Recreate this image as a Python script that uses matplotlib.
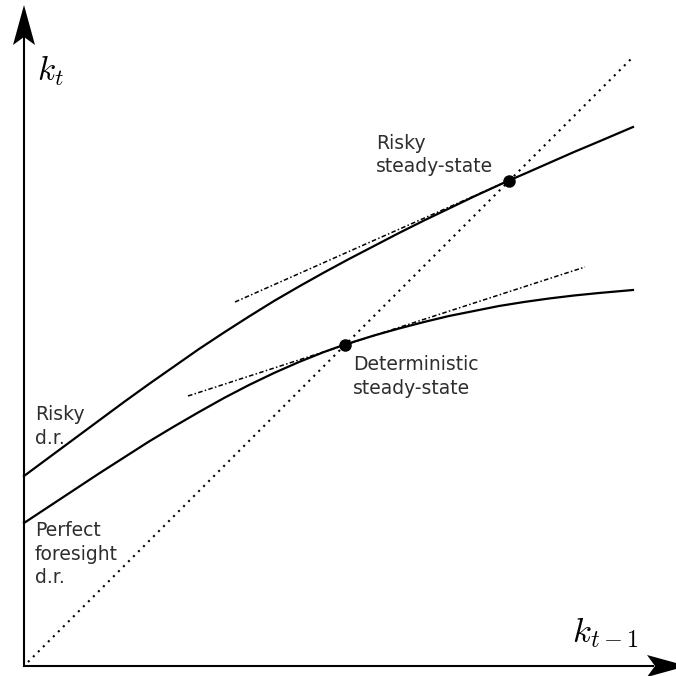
import matplotlib
matplotlib.use("Agg")
import matplotlib.pyplot as plt

plt.rcParams['mathtext.fontset'] = 'cm'
plt.rcParams['font.family'] = ['DejaVu Sans']

# Risky decision rule (k_{t-1}, k_t)
risky_x = [0, 25, 50, 75, 100, 125, 150, 175, 200, 225, 250, 275, 300, 325,
           350, 375, 400, 425, 450, 475, 485, 500, 525, 550, 575, 609]
risky_y = [190, 208.5, 227, 245.5, 264, 282, 299.5, 317, 333.5, 349.5, 365,
           379.5, 393.5, 407, 420, 433, 445.5, 457.5, 469.5, 481, 485.5, 492,
           503, 514, 524.5, 539]

# Perfect foresight decision rule
pf_x = [0, 25, 50, 75, 100, 125, 150, 175, 200, 225, 250, 275, 300, 321,
        350, 375, 400, 425, 450, 475, 500, 525, 550, 575, 609]
pf_y = [143, 159.5, 176, 192.5, 208.5, 224.5, 239.5, 254, 268, 281, 293,
        304, 314, 321.5, 330.5, 337.5, 344, 350, 355, 360, 364, 367.5,
        370.5, 373, 376]

# 45-degree line
diag_x = [4, 609]
diag_y = [4, 609]

# steady states
risky_ss = (485, 485.5)
det_ss = (321, 321.5)

# tangents (dash-dot) at the steady states
risky_tan_x = [211, 485]
risky_tan_y = [364, 485.5]
det_tan_x = [164, 561]
det_tan_y = [270, 399]

fig = plt.figure(figsize=(6.76, 6.76), dpi=100)
ax = fig.add_axes([0, 0, 1, 1])
ax.set_xlim(-24, 652)
ax.set_ylim(-10, 666)
ax.axis('off')

# axes with arrow heads
ax.plot([0, 0], [-1, 630], color='black', lw=1.5, solid_capstyle='butt')
ax.plot([-1, 630], [0, 0], color='black', lw=1.5, solid_capstyle='butt')
ax.fill([0, -11, 0, 11], [661, 621, 629, 621], color='black', lw=0)
ax.fill([663, 623, 631, 623], [0, 11, 0, -11], color='black', lw=0)

ax.plot(diag_x, diag_y, color='black', lw=1.5, linestyle=(0, (1, 2.4)))
ax.plot(risky_x, risky_y, color='black', lw=1.6)
ax.plot(pf_x, pf_y, color='black', lw=1.6)
ax.plot(risky_tan_x, risky_tan_y, color='black', lw=1.1, linestyle=(0, (3, 1.5, 1, 1.5)))
ax.plot(det_tan_x, det_tan_y, color='black', lw=1.1, linestyle=(0, (3, 1.5, 1, 1.5)))
ax.plot(*risky_ss, marker='o', color='black', markersize=8)
ax.plot(*det_ss, marker='o', color='black', markersize=8)

ax.text(13, 586, r'$k_t$', fontsize=24, va='baseline', ha='left')
ax.text(548, 24, r'$k_{t-1}$', fontsize=25, va='baseline', ha='left')

tc = '#2e2e2e'
fs = 13.5
ls = 1.3
ax.text(352, 532, 'Risky\nsteady-state', fontsize=fs, color=tc, va='top', ha='left', linespacing=ls)
ax.text(329, 311, 'Deterministic\nsteady-state', fontsize=fs, color=tc, va='top', ha='left', linespacing=ls)
ax.text(11, 261, 'Risky\nd.r.', fontsize=fs, color=tc, va='top', ha='left', linespacing=ls)
ax.text(11, 145, 'Perfect\nforesight\nd.r.', fontsize=fs, color=tc, va='top', ha='left', linespacing=ls)

fig.savefig('out.png', dpi=100)
